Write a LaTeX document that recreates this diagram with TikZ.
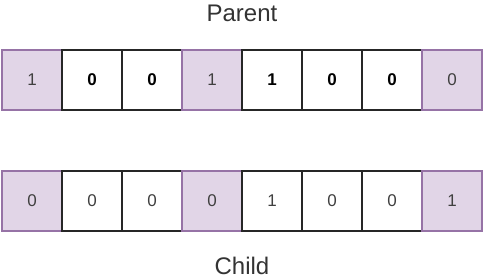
\documentclass[tikz,border=0pt]{standalone}
\usepackage{fontspec}
\setmainfont{Liberation Sans}
\usetikzlibrary{positioning}

\begin{document}
\begin{tikzpicture}[
    cell/.style={draw, line width=1.2pt, minimum width=60pt, minimum height=60pt,
                 inner sep=0pt, outer sep=0pt, font=\fontsize{17}{19}\selectfont},
    hibox/.style={cell, draw=purple9, fill=purpleE},
    plain/.style={cell, draw=black!85, fill=white},
    lbl/.style={font=\fontsize{24}{28}\selectfont, text=black!80, anchor=base,
                inner sep=0pt}
  ]
  \definecolor{purple9}{HTML}{9673A6}
  \definecolor{purpleE}{HTML}{E1D5E7}
  \useasboundingbox (0,0) rectangle (484pt,-279pt);

  % Parent row
  \node[hibox, anchor=north west, text=black!75] (p1) at (2pt,-50pt) {1};
  \node[plain, right=0pt of p1] (p2) {\bfseries 0};
  \node[plain, right=0pt of p2] (p3) {\bfseries 0};
  \node[hibox, right=0pt of p3, text=black!75] (p4) {1};
  \node[plain, right=0pt of p4] (p5) {\bfseries 1};
  \node[plain, right=0pt of p5] (p6) {\bfseries 0};
  \node[plain, right=0pt of p6] (p7) {\bfseries 0};
  \node[hibox, right=0pt of p7, text=black!75] (p8) {0};

  % Child row
  \node[hibox, below=61pt of p1, text=black!75] (c1) {0};
  \node[plain, right=0pt of c1, text=black!75] (c2) {0};
  \node[plain, right=0pt of c2, text=black!75] (c3) {0};
  \node[hibox, right=0pt of c3, text=black!75] (c4) {0};
  \node[plain, right=0pt of c4, text=black!75] (c5) {1};
  \node[plain, right=0pt of c5, text=black!75] (c6) {0};
  \node[plain, right=0pt of c6, text=black!75] (c7) {0};
  \node[hibox, right=0pt of c7, text=black!75] (c8) {1};

  % Labels
  \node[lbl] (parent) at ([yshift=29pt]p4.north east) {Parent};
  \node[lbl] (child) at ([yshift=-43pt]c4.south east) {Child};

\end{tikzpicture}
\end{document}
